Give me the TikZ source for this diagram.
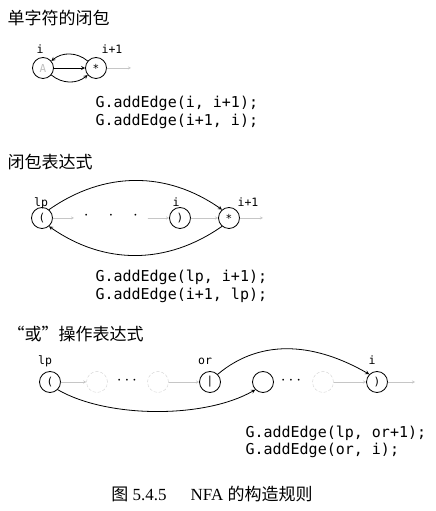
\documentclass[tikz,border=0pt]{standalone}
\usepackage{fontspec}
\setmonofont{DejaVu Sans Mono}
\newfontfamily\cjk{Noto Sans CJK SC}
\newfontfamily\capfont{Liberation Serif}

\begin{document}
\begin{tikzpicture}[x=1pt, y=1pt, line cap=round, line join=round, >=stealth, font=\ttfamily]
	\tikzset{state/.style={circle, draw, thick, minimum size=21pt, inner sep=0pt, font=\ttfamily\fontsize{11}{11}\selectfont},
		faint/.style={circle, draw=gray!35, densely dashed, minimum size=21pt, inner sep=0pt},
		eps/.style={->, gray!45, thin},
		jump/.style={->, thick},
		dots style/.style={font=\bfseries\fontsize{16}{16}\selectfont},
		label style/.style={anchor=base, font=\ttfamily\fontsize{11.5}{11.5}\selectfont},
		title style/.style={anchor=base west, font=\cjk\fontsize{17}{17}\selectfont},
		code style/.style={anchor=base west, font=\ttfamily\fontsize{15}{15}\selectfont}}
	\useasboundingbox (0,0) rectangle (436,511);
	% single character closure
	\node[title style] (t1) at (4,486) {单字符的闭包};
	\node[state] (a1) at (43,443) {\textcolor{gray!50}{A}};
	\node[state] (s1) at (96,443) {*};
	\coordinate (e1) at (131,443);
	\node[label style] (la1) at (40,457) {i};
	\node[label style] (ls1) at (112,457) {i+1};
	\draw[jump] (a1) -- (s1);
	\draw[jump] (s1.140) to[bend right=40] (a1.40);
	\draw[jump] (a1.-40) to[bend right=40] (s1.-140);
	\draw[eps] (s1) -- (e1);
	\node[code style] (c1a) at (92,403) {G.addEdge(i, i+1);};
	\node[code style] (c1b) at (92,385) {G.addEdge(i+1, i);};
	% closure expression
	\node[title style] (t2) at (4,342) {闭包表达式};
	\node[state] (lp2) at (42,293) {(};
	\node[state] (i2) at (180,293) {)};
	\node[state] (s2) at (229,293) {*};
	\coordinate (d2a) at (74,293);
	\coordinate (d2b) at (148,293);
	\coordinate (e2) at (263,293);
	\node[dots style] (dots2) at (111,295) {$\cdot\quad\cdot\quad\cdot$};
	\node[label style] (llp2) at (41,304) {lp};
	\node[label style] (li2) at (176,304) {i};
	\node[label style] (ls2) at (248,304) {i+1};
	\draw[eps] (lp2) -- (d2a);
	\draw[eps] (d2b) -- (i2);
	\draw[eps] (i2) -- (s2);
	\draw[eps] (s2) -- (e2);
	\draw[jump] (lp2.50) to[out=35, in=145] (s2.130);
	\draw[jump] (s2.-130) to[out=-145, in=-35] (lp2.-50);
	\node[code style] (c2a) at (92,229) {G.addEdge(lp, i+1);};
	\node[code style] (c2b) at (92,211) {G.addEdge(i+1, lp);};
	% or expression
	\node[title style] (t3) at (4,170) {“或”操作表达式};
	\node[state] (lp3) at (50,129) {(};
	\node[faint] (f1) at (97,129) {};
	\node[dots style] (dots3a) at (127,130) {$\cdots$};
	\node[faint] (f2) at (158,129) {};
	\node[state] (or3) at (210,129) {|};
	\node[state] (p3) at (263,129) {};
	\node[dots style] (dots3b) at (291,130) {$\cdots$};
	\node[faint] (f3) at (323,129) {};
	\node[state] (i3) at (377,129) {)};
	\coordinate (e3) at (415,129);
	\node[label style] (llp3) at (45,146) {lp};
	\node[label style] (lor3) at (205,146) {or};
	\node[label style] (li3) at (372,146) {i};
	\draw[eps] (lp3) -- (f1);
	\draw[eps] (f2) -- (or3);
	\draw[eps] (f3) -- (i3);
	\draw[eps] (i3) -- (e3);
	\draw[jump] (or3.45) to[out=40, in=150] (i3.135);
	\draw[jump] (lp3.-45) to[out=-30, in=-150, looseness=0.75] (p3.-135);
	\node[code style] (c3a) at (242,73) {G.addEdge(lp, or+1);};
	\node[code style] (c3b) at (242,56) {G.addEdge(or, i);};
	% caption
	\node[anchor=base, font=\capfont\fontsize{17}{17}\selectfont] (cap) at (212,10) {{\cjk 图} 5.4.5\quad\, NFA {\cjk 的构造规则}};
\end{tikzpicture}
\end{document}
